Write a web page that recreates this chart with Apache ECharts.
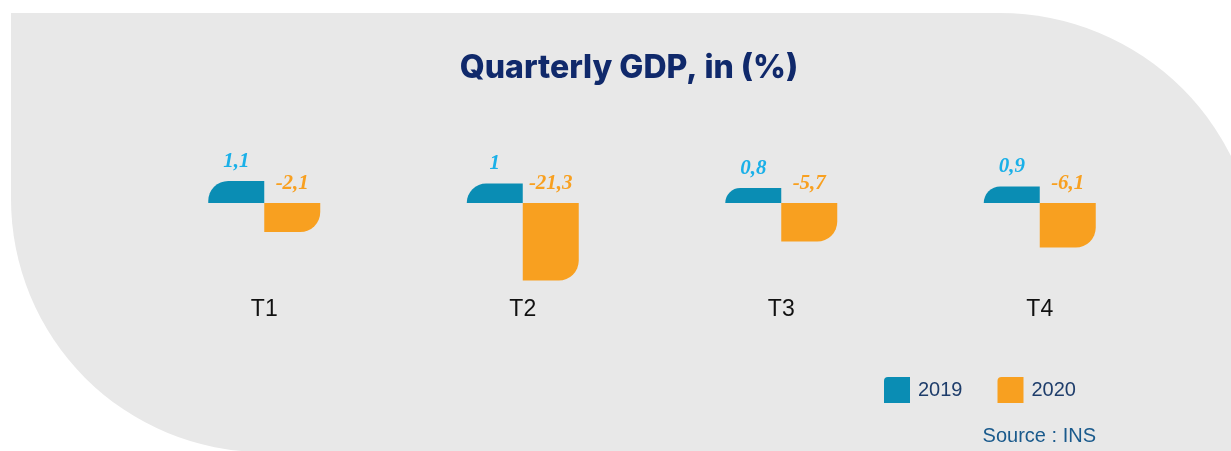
<!DOCTYPE html>
<html>
<head>
<meta charset="utf-8">
<script src="https://cdn.jsdelivr.net/npm/echarts@6/dist/echarts.min.js"></script>
<style>
  html, body { margin: 0; padding: 0; background: #fff; }
  #chart { width: 1231px; height: 451px; }
</style>
</head>
<body>
<div id="chart"></div>
<script>
  // quarters
  var quarters = ['T1', 'T2', 'T3', 'T4']
  // GDP values shown on the labels
  var gdp2019 = [1.1, 1.0, 0.8, 0.9]
  var gdp2020 = [-2.1, -21.3, -5.7, -6.1]
  // bar lengths as drawn in the infographic (not to scale with the values)
  var drawn2019 = [22, 19.5, 15, 16.5]
  var drawn2020 = [-29, -77.5, -38.5, -44.5]

  var blue = '#0a8db4'
  var orange = '#f8a020'

  function fmt(v) {
    return String(v).replace('.', ',')
  }

  var dom = echarts.init(document.getElementById('chart'))
  var option = {
    backgroundColor: '#ffffff',
    animation: false,
    title: {
      text: 'Quarterly GDP, in (%)',
      left: 624,
      top: 47,
      textAlign: 'center',
      textStyle: {
        fontFamily: 'Inter',
        fontWeight: 800,
        fontSize: 32,
        color: '#10296b'
      }
    },
    graphic: [
      {
        type: 'rect',
        z: -10,
        shape: { x: 11, y: 13, width: 1247, height: 439, r: [0, 258, 0, 253] },
        style: { fill: '#e8e8e8' }
      },
      {
        type: 'text',
        x: 1096,
        y: 436,
        style: {
          text: 'Source : INS',
          textAlign: 'right',
          textVerticalAlign: 'middle',
          fontFamily: 'Liberation Sans',
          fontSize: 20,
          fill: '#1a5a8c'
        }
      }
    ],
    legend: {
      left: 879,
      top: 372,
      itemWidth: 26,
      itemHeight: 26,
      itemGap: 35,
      textStyle: {
        fontFamily: 'Liberation Sans',
        fontSize: 20,
        color: '#1e3d6b',
        padding: [0, 0, 0, 3]
      },
      data: [
        { name: '2019', icon: 'path://M4,0 H26 V26 H0 V4 Q0,0 4,0 Z' },
        { name: '2020', icon: 'path://M4,0 H26 V26 H0 V4 Q0,0 4,0 Z' }
      ]
    },
    grid: {
      left: 135,
      right: 62,
      top: 143,
      height: 147
    },
    xAxis: {
      type: 'category',
      data: quarters,
      axisLine: { show: false, onZero: false },
      axisTick: { show: false },
      axisLabel: {
        margin: 8,
        fontFamily: 'Liberation Sans',
        fontSize: 23,
        color: '#111'
      }
    },
    yAxis: {
      type: 'value',
      min: -87,
      max: 60,
      show: false,
      splitLine: { show: false }
    },
    series: [
      {
        name: '2019',
        type: 'bar',
        barWidth: 56,
        barGap: 0,
        data: drawn2019,
        itemStyle: { color: blue, borderRadius: [20, 0, 0, 0] },
        label: {
          show: true,
          position: 'top',
          distance: 9,
          formatter: function (p) { return fmt(gdp2019[p.dataIndex]) },
          fontFamily: 'Liberation Serif',
          fontStyle: 'italic',
          fontWeight: 'bold',
          fontSize: 21,
          color: '#1ab0e8'
        }
      },
      {
        name: '2020',
        type: 'bar',
        barWidth: 56,
        data: drawn2020,
        itemStyle: { color: orange, borderRadius: [0, 0, 20, 0] },
        label: {
          show: true,
          position: 'top',
          distance: 9,
          formatter: function (p) { return fmt(gdp2020[p.dataIndex]) },
          fontFamily: 'Liberation Serif',
          fontStyle: 'italic',
          fontWeight: 'bold',
          fontSize: 21,
          color: orange
        }
      }
    ]
  }
  dom.setOption(option)
</script>
</body>
</html>
